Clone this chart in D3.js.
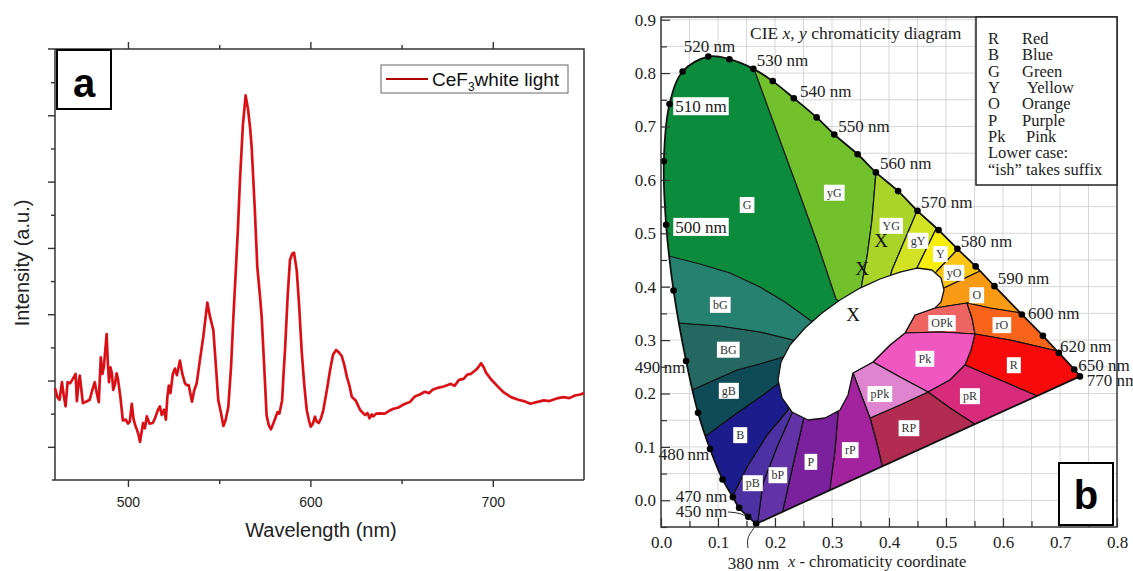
<!DOCTYPE html>
<html>
<head>
<meta charset="utf-8">
<script src="https://cdn.jsdelivr.net/npm/d3@7"></script>
<style>
body { margin: 0; background: #fff; }
svg { display: block; }
</style>
</head>
<body>
<svg id="fig" width="1133" height="571"></svg>
<script>
// ---------- panel a : emission spectrum ----------
const SPECTRUM = [
  [460,1.77],[461.3,1.50],[462.5,1.42],[463.8,1.95],[464.8,1.55],[465.8,1.22],[466.9,1.95],[468.3,1.92],
  [469.8,2.05],[471.3,2.20],[472,1.38],[472.9,1.92],[473.6,2.15],[474.5,1.70],[475.3,1.32],[477,1.36],
  [479,1.42],[480.8,1.78],[481.8,1.95],[482.9,1.62],[484,1.35],[485.1,2.70],[486,2.20],[486.8,2.42],
  [487.7,3.00],[488.3,3.40],[489,2.50],[489.6,1.95],[490.4,2.40],[491.2,2.22],[491.9,1.72],[492.8,1.88],
  [493.8,2.22],[494.5,2.05],[495.8,1.52],[497.2,0.80],[498.8,0.82],[500,0.70],[501,0.76],[502.1,1.30],
  [503,0.86],[503.9,0.66],[504.9,0.52],[505.8,0.36],[506.6,0.15],[507.4,0.42],[508.3,0.72],[509.3,0.56],
  [510.3,0.92],[511.8,0.70],[513.6,0.72],[514.8,0.86],[516.3,1.10],[517.5,1.22],[518.5,0.96],[519.8,1.12],
  [520.8,0.82],[521.6,1.50],[522.4,1.85],[523.3,1.62],[524.6,2.20],[525.7,2.36],[526.8,2.16],[528.5,2.60],
  [529.8,2.20],[531.2,1.92],[532.3,1.86],[533.3,1.86],[535.1,1.36],[536.3,1.70],[537.7,1.92],[539.4,2.60],
  [541.3,3.32],[543.5,4.35],[545,3.92],[546.8,3.52],[548,2.60],[549.5,1.41],[550.9,1.05],[552.3,0.63],
  [553.5,0.80],[555,1.20],[556.5,2.40],[557.8,3.92],[559.2,5.40],[560.3,6.60],[561.4,8.05],[563,9.70],
  [564.5,10.60],[565.9,10.15],[567,9.60],[567.8,9.05],[569.5,7.20],[570.9,5.43],[572.3,4.60],[573.3,3.92],
  [574.8,2.30],[576,0.95],[577.2,0.65],[578.4,0.53],[580,0.75],[581,0.90],[582,1.05],[583,1.00],
  [584.5,1.40],[585.3,2.20],[586.1,2.92],[587.5,4.50],[588.8,5.63],[590,5.82],[591,5.86],[592.5,5.33],
  [593.8,4.30],[595.2,2.92],[596.6,1.90],[598,1.11],[599.2,0.80],[600.2,0.61],[601.4,0.70],[602.5,0.91],
  [603.5,0.76],[604.6,0.72],[605.8,0.86],[607.1,1.11],[609,1.70],[610.8,2.32],[612.4,2.78],[614.1,2.92],
  [615.6,2.85],[617.2,2.74],[618.7,2.45],[620,2.11],[621.4,1.85],[622.7,1.51],[624.8,1.40],[627.3,1.11],
  [628.7,1.03],[630,0.96],[631.3,1.02],[632.4,0.86],[633.6,0.98],[634.5,0.92],[636,1.00],[638.2,1.01],
  [640.8,1.00],[643,1.08],[645.5,1.15],[648,1.18],[650.5,1.26],[652,1.30],[654.5,1.35],[657.3,1.52],
  [660,1.58],[662.7,1.66],[665,1.62],[667,1.72],[669.9,1.78],[673,1.82],[675,1.86],[677,1.90],
  [679,1.84],[681.5,2.02],[684,2.05],[686,2.18],[688,2.20],[689.8,2.28],[691.5,2.36],[693.6,2.52],
  [695,2.40],[696.3,2.24],[699,2.04],[702.4,1.84],[706,1.64],[710,1.50],[714,1.42],[717,1.38],
  [720.6,1.30],[724,1.35],[728,1.40],[731,1.38],[735,1.46],[738.7,1.50],[742,1.47],[745,1.55],
  [748,1.58],[750,1.62]
];
const WL_MAJOR = [500, 600, 700];
const WL_MINOR = [550, 650];
const INT_MAJOR = [0, 2, 4, 6, 8, 10];
const INT_MINOR = [1, 3, 5, 7, 9, 11];

// ---------- panel b : CIE diagram ----------
const LOCUS_NM = [380,450,460,470,475,480,485,490,495,500,505,510,515,520,525,530,535,540,545,550,555,560,565,570,575,580,585,590,600,610,620,650,770];
const LOCUS_X = [0.167,0.153,0.137,0.126,0.108,0.086,0.065,0.044,0.022,0.009,0.005,0.015,0.038,0.083,0.120,0.162,0.196,0.233,0.273,0.304,0.345,0.377,0.416,0.450,0.487,0.520,0.552,0.585,0.633,0.670,0.698,0.725,0.735];
const LOCUS_Y = [-0.044,-0.031,-0.014,0.006,0.039,0.096,0.164,0.261,0.393,0.516,0.635,0.742,0.803,0.831,0.826,0.808,0.785,0.753,0.717,0.685,0.648,0.614,0.579,0.542,0.506,0.471,0.438,0.401,0.348,0.308,0.276,0.245,0.232];

// region boundaries (x, y chromaticity), ends run slightly past the locus / into the white centre
const B_G_YG = [[0.1526,0.8395],[0.1632,0.8077],[0.2053,0.6841],[0.2439,0.5717],[0.2754,0.4781],[0.3070,0.3770],[0.3316,0.3564]];
const B_G_BG = [[-0.0193,0.4650],[0.0140,0.4575],[0.0684,0.4425],[0.1211,0.4256],[0.1737,0.3994],[0.2175,0.3713],[0.2614,0.3376],[0.2877,0.3189]];
const B_YG_YG = [[0.3807,0.6466],[0.3772,0.6148],[0.3702,0.5249],[0.3614,0.4556],[0.3526,0.4069],[0.3491,0.3751]];
const B_YG_GY = [[0.4632,0.5717],[0.4491,0.5418],[0.4053,0.4313],[0.3982,0.4032]];
const B_GY_Y = [[0.4965,0.5399],[0.4825,0.5080],[0.4491,0.4350],[0.4404,0.4125]];
const B_Y_YO = [[0.5351,0.5024],[0.5193,0.4687],[0.4842,0.4294],[0.4719,0.4125]];
const B_YO_O = [[0.5737,0.4387],[0.5561,0.4275],[0.4965,0.3975],[0.4719,0.3844]];
const B_OPK_TOP = [[0.4456,0.3470],[0.4807,0.3601],[0.5368,0.3695]];
const B_O_RO = [[0.5368,0.3695],[0.5772,0.3601],[0.6316,0.3508],[0.6649,0.3451]];
const B_OPK_RO = [[0.5368,0.3695],[0.5456,0.3414],[0.5509,0.3114]];
const B_OPK_PK = [[0.4281,0.3133],[0.4895,0.3152],[0.5509,0.3114]];
const B_RO_R = [[0.5509,0.3114],[0.6123,0.3002],[0.6947,0.2796],[0.7263,0.2721]];
const B_PK_R = [[0.5509,0.3114],[0.5439,0.2815],[0.5333,0.2534]];
const B_PK_PR = [[0.5333,0.2534],[0.5070,0.2253],[0.4684,0.2028]];
const B_R_PR = [[0.5333,0.2534],[0.5947,0.2253],[0.6561,0.1972],[0.6825,0.1841]];
const B_PR_RP = [[0.4684,0.2028],[0.5070,0.1728],[0.5474,0.1448],[0.5596,0.1316]];
const B_PPK_PK = [[0.3719,0.2590],[0.4193,0.2309],[0.4684,0.2028]];
const B_PPK_RP = [[0.3667,0.1541],[0.4193,0.1785],[0.4684,0.2028]];
const B_PPK_LEFT = [[0.3368,0.2384],[0.3667,0.1541]];
const B_RP_RP = [[0.3667,0.1541],[0.3772,0.1129],[0.3877,0.0661],[0.3930,0.0380]];
const B_P_RP = [[0.3105,0.1635],[0.3053,0.0942],[0.2965,0.0230],[0.2930,0.0006]];
const B_BP_P = [[0.2509,0.1560],[0.2316,0.0661],[0.2140,-0.0181],[0.2088,-0.0463]];
const B_PB_BP = [[0.2298,0.1635],[0.2035,0.0998],[0.1789,0.0324],[0.1702,-0.0369],[0.1667,-0.0650]];
const B_B_PB = [[0.2228,0.1691],[0.1860,0.1223],[0.1509,0.0624],[0.1263,0.0099],[0.1123,-0.0088]];
const B_GB_B = [[0.0684,0.1129],[0.0807,0.1223],[0.1333,0.1635],[0.1789,0.1972],[0.2070,0.2197],[0.2263,0.2253]];
const B_BG_GB = [[0.0421,0.2009],[0.0544,0.2066],[0.1333,0.2440],[0.1789,0.2571],[0.2140,0.2684],[0.2351,0.2684]];
const B_BG2_BG = [[0.0158,0.3320],[0.0298,0.3320],[0.1035,0.3264],[0.1737,0.3152],[0.2316,0.3002],[0.2526,0.2908]];

const WHITE_AREA = [[0.2053,0.2253],[0.2105,0.2590],[0.2263,0.2908],[0.2526,0.3227],[0.2825,0.3508],[0.3140,0.3751],
  [0.3491,0.3975],[0.3842,0.4144],[0.4193,0.4275],[0.4491,0.4350],[0.4754,0.4313],[0.4912,0.4163],[0.4965,0.3938],
  [0.4912,0.3713],[0.4807,0.3601],[0.4456,0.3470],[0.4281,0.3133],[0.4018,0.2908],[0.3719,0.2590],[0.3368,0.2384],
  [0.3281,0.1972],[0.3140,0.1691],[0.2877,0.1541],[0.2579,0.1504],[0.2298,0.1654],[0.2123,0.1916]];

const REGION_LABELS = [["G",0.151,0.553],["yG",0.304,0.576],["YG",0.404,0.514],["gY",0.451,0.486],["Y",0.490,0.461],
  ["yO",0.514,0.426],["O",0.554,0.384],["OPk",0.493,0.332],["rO",0.598,0.328],["R",0.619,0.253],["Pk",0.463,0.265],
  ["pR",0.542,0.195],["RP",0.435,0.135],["pPk",0.384,0.199],["rP",0.332,0.094],["P",0.263,0.072],["bP",0.205,0.047],
  ["pB",0.161,0.032],["B",0.139,0.122],["gB",0.119,0.205],["BG",0.118,0.282],["bG",0.104,0.366]];

const NM_LABELS = [["520 nm",0.040,0.851,false],["530 nm",0.168,0.825,false],["540 nm",0.244,0.767,false],
  ["550 nm",0.311,0.701,false],["560 nm",0.384,0.632,false],["570 nm",0.456,0.559,false],["580 nm",0.526,0.486,false],
  ["590 nm",0.591,0.416,false],["600 nm",0.644,0.351,false],["620 nm",0.700,0.289,false],["650 nm",0.732,0.253,false],
  ["770 nm",0.747,0.225,false],["510 nm",0.025,0.738,true],["500 nm",0.025,0.512,true],["490\u2009nm",-0.046,0.250,false],
  ["480\u2009nm",-0.004,0.087,false],["470 nm",0.026,0.008,false],["450 nm",0.026,-0.020,false],["380 nm",0.117,-0.117,false]];

const LEADERS = [
  [[0.1175,-0.0219],[0.1386,-0.0238],[0.1509,-0.0313]],
  [[0.1526,-0.0894],[0.1509,-0.0706],[0.1596,-0.0575],[0.1649,-0.0481]]
];

const MARK_X = [0.386, 0.353, 0.337];
const MARK_Y = [0.487, 0.435, 0.349];

const X_TICKS = d3.range(0, 9).map(i => i / 10);
const X_MINOR = d3.range(0, 8).map(i => i / 10 + 0.05);
const Y_TICKS = d3.range(0, 10).map(i => i / 10);
const Y_MINOR = d3.range(-1, 9).map(i => i / 10 + 0.05);

const KEY_ABBR = ["R","B","G","Y","O","P","Pk"];
const KEY_NAME = ["Red","Blue","Green","Yellow","Orange","Purple","Pink"];

const SERIF = "'Liberation Serif','Times New Roman',serif";
const SANS = "Arial,'Liberation Sans',Helvetica,sans-serif";

const svg = d3.select("#fig");

// =============== panel a ===============
const xA = d3.scaleLinear().domain([460, 750]).range([55, 584]);
const yA = d3.scaleLinear().domain([-1, 12]).range([480, 49]);
const gA = svg.append("g");

function tickAxis(axis, tr) {
  const g = gA.append("g").attr("transform", tr).call(axis);
  g.select(".domain").remove();
  g.selectAll("line").attr("stroke", "#333").attr("stroke-width", 1.4);
  g.selectAll("text").attr("font-family", SANS).attr("font-size", 14).attr("fill", "#222");
  return g;
}
tickAxis(d3.axisBottom(xA).tickValues(WL_MAJOR).tickSize(7).tickPadding(10).tickFormat(d3.format("d")), "translate(0,480)");
tickAxis(d3.axisBottom(xA).tickValues(WL_MINOR).tickSize(4).tickFormat(""), "translate(0,480)");
tickAxis(d3.axisTop(xA).tickValues(WL_MAJOR).tickSize(7).tickFormat(""), "translate(0,49)");
tickAxis(d3.axisTop(xA).tickValues(WL_MINOR).tickSize(4).tickFormat(""), "translate(0,49)");
tickAxis(d3.axisLeft(yA).tickValues(INT_MAJOR).tickSize(7).tickFormat(""), "translate(55,0)");
tickAxis(d3.axisLeft(yA).tickValues(INT_MINOR).tickSize(4).tickFormat(""), "translate(55,0)");

gA.append("path")
  .attr("d", "M48,49H584V480M52,480H584M55,49V480")
  .attr("fill", "none").attr("stroke", "#333").attr("stroke-width", 1.5);

const lineA = d3.line().x(d => xA(d[0])).y(d => yA(d[1]));
gA.append("path").datum(SPECTRUM).attr("d", lineA)
  .attr("fill", "none").attr("stroke", "#e4141a").attr("stroke-width", 2.7).attr("stroke-linejoin", "round");
gA.append("path").datum(SPECTRUM).attr("d", lineA)
  .attr("fill", "none").attr("stroke", "#700000").attr("stroke-width", 0.6).attr("opacity", 0.35);

gA.append("text").attr("x", 321).attr("y", 537).attr("text-anchor", "middle")
  .attr("font-family", SANS).attr("font-size", 20).attr("fill", "#222").text("Wavelength (nm)");
gA.append("text").attr("transform", "translate(29,263) rotate(-90)").attr("text-anchor", "middle")
  .attr("font-family", SANS).attr("font-size", 20).attr("fill", "#222").text("Intensity (a.u.)");

// legend
gA.append("rect").attr("x", 381).attr("y", 65).attr("width", 187).attr("height", 28)
  .attr("fill", "#fff").attr("stroke", "#666").attr("stroke-width", 1);
gA.append("line").attr("x1", 386).attr("x2", 428).attr("y1", 79).attr("y2", 79)
  .attr("stroke", "#b00000").attr("stroke-width", 2);
const legT = gA.append("text").attr("x", 432).attr("y", 86)
  .attr("font-family", SANS).attr("font-size", 19).attr("fill", "#111");
legT.append("tspan").text("CeF");
legT.append("tspan").attr("font-size", 12).attr("dy", 5).text("3");
legT.append("tspan").attr("dy", -5).text("white light");

gA.append("rect").attr("x", 57).attr("y", 50).attr("width", 54).attr("height", 59)
  .attr("fill", "#fff").attr("stroke", "#000").attr("stroke-width", 2);
gA.append("text").attr("x", 84).attr("y", 97).attr("text-anchor", "middle")
  .attr("font-family", SANS).attr("font-weight", "bold").attr("font-size", 40).text("a");

// =============== panel b ===============
const xB = d3.scaleLinear().domain([0, 0.8]).range([661, 1117]);
const yB = d3.scaleLinear().domain([-0.05, 0.9]).range([527, 19.7]);
const gB = svg.append("g");

// grid
const gridX = d3.range(1, 16).map(i => i * 0.05);
const gridY = d3.range(0, 19).map(i => i * 0.05);
gB.append("g").selectAll("line").data(gridX).enter().append("line")
  .attr("x1", d => xB(d)).attr("x2", d => xB(d)).attr("y1", 17).attr("y2", 527)
  .attr("stroke", "#d3d3d3").attr("stroke-width", 0.9);
gB.append("g").selectAll("line").data(gridY).enter().append("line")
  .attr("x1", 661).attr("x2", 1117).attr("y1", d => yB(d)).attr("y2", d => yB(d))
  .attr("stroke", "#d3d3d3").attr("stroke-width", 0.9);

const locusPts = LOCUS_NM.map((n, i) => [LOCUS_X[i], LOCUS_Y[i]]);
const locusCurve = d3.line().x(d => xB(d[0])).y(d => yB(d[1])).curve(d3.curveCatmullRom.alpha(0.5))(locusPts) + "Z";
const polyLine = d3.line().x(d => xB(d[0])).y(d => yB(d[1]));

svg.append("defs").append("clipPath").attr("id", "locusClip")
  .append("path").attr("d", locusCurve);

const rev = a => a.slice().reverse();
const REGIONS = [
  {name: "yG", color: "#72c02c", poly: [...B_G_YG, ...rev(B_YG_YG), [0.40,0.75], [0.25,0.95], [0.14,0.95]]},
  {name: "YG", color: "#aad42a", poly: [...B_YG_YG, ...rev(B_YG_GY), [0.45,0.68], [0.38,0.70]]},
  {name: "gY", color: "#d2e224", poly: [...B_YG_GY, ...rev(B_GY_Y), [0.50,0.60], [0.46,0.62]]},
  {name: "Y", color: "#f7ee0c", poly: [...B_GY_Y, ...rev(B_Y_YO), [0.54,0.56], [0.50,0.58]]},
  {name: "yO", color: "#fcc414", poly: [...B_Y_YO, ...rev(B_YO_O), [0.59,0.47], [0.55,0.52]]},
  {name: "O", color: "#f89a14", poly: [...B_YO_O, [0.4807,0.3601], ...B_O_RO, [0.72,0.38], [0.62,0.47]]},
  {name: "OPk", color: "#ee6462", poly: [...B_OPK_TOP, ...B_OPK_RO.slice(1), ...rev(B_OPK_PK).slice(1)]},
  {name: "rO", color: "#f7641a", poly: [...B_O_RO, [0.74,0.33], ...rev(B_RO_R), ...rev(B_OPK_RO).slice(1)]},
  {name: "R", color: "#f70a0a", poly: [...B_RO_R, [0.80,0.26], [0.72,0.16], ...rev(B_R_PR), ...rev(B_PK_R).slice(1)]},
  {name: "Pk", color: "#f057c0", poly: [...B_OPK_PK, ...B_PK_R.slice(1), ...B_PK_PR.slice(1), ...rev(B_PPK_PK).slice(1), [0.4018,0.2908]]},
  {name: "pR", color: "#d82b7c", poly: [...B_PK_PR, ...B_PR_RP.slice(1), [0.64,0.12], ...rev(B_R_PR)]},
  {name: "RP", color: "#b12c50", poly: [...B_PPK_RP, ...B_PR_RP.slice(1), [0.45,0.0], ...rev(B_RP_RP)]},
  {name: "pPk", color: "#df84cf", poly: [...B_PPK_PK, ...rev(B_PPK_RP).slice(1), ...rev(B_PPK_LEFT).slice(1)]},
  {name: "rP", color: "#a3229d", poly: [...B_P_RP, [0.35,-0.04], ...rev(B_RP_RP), [0.3368,0.2384], [0.32,0.22]]},
  {name: "P", color: "#7b219d", poly: [...B_BP_P, [0.25,-0.06], ...rev(B_P_RP), [0.28,0.17]]},
  {name: "bP", color: "#6233a6", poly: [...B_PB_BP, [0.20,-0.08], ...rev(B_BP_P), [0.24,0.175]]},
  {name: "pB", color: "#4b31a2", poly: [...B_B_PB, [0.14,-0.09], ...rev(B_PB_BP), [0.225,0.185]]},
  {name: "B", color: "#1c1c8c", poly: [...B_GB_B, ...B_B_PB, [0.05,0.0], [0.03,0.10]]},
  {name: "gB", color: "#0e4b56", poly: [...B_BG_GB, ...rev(B_GB_B), [0.02,0.15]]},
  {name: "BG", color: "#246861", poly: [...B_BG2_BG, ...rev(B_BG_GB), [0.01,0.25]]},
  {name: "bG", color: "#268171", poly: [...B_G_BG, ...rev(B_BG2_BG), [-0.03,0.40]]}
];
const G_COLOR = "#0b8b3b";

const gReg = gB.append("g").attr("clip-path", "url(#locusClip)");
gReg.append("path").attr("d", locusCurve).attr("fill", G_COLOR);
gReg.selectAll("path.region").data(REGIONS).enter().append("path")
  .attr("class", "region")
  .attr("d", d => polyLine(d.poly) + "Z")
  .attr("fill", d => d.color)
  .attr("stroke", "#111").attr("stroke-width", 1.2).attr("stroke-linejoin", "round");

gB.append("path").attr("d", polyLine(WHITE_AREA) + "Z")
  .attr("fill", "#fff").attr("stroke", "#111").attr("stroke-width", 1.3).attr("stroke-linejoin", "round");

gB.append("path").attr("d", locusCurve)
  .attr("fill", "none").attr("stroke", "#111").attr("stroke-width", 1.8).attr("stroke-linejoin", "round");

gB.append("g").selectAll("circle").data(locusPts).enter().append("circle")
  .attr("cx", d => xB(d[0])).attr("cy", d => yB(d[1])).attr("r", 3.3).attr("fill", "#000");

// X marks
gB.append("g").selectAll("text").data(MARK_X).enter().append("text")
  .attr("x", d => xB(d)).attr("y", (d, i) => yB(MARK_Y[i])).attr("dy", "0.35em")
  .attr("text-anchor", "middle").attr("font-family", SERIF).attr("font-size", 19).attr("fill", "#111").text("X");

// region labels in white boxes
REGION_LABELS.forEach(l => {
  const g = gB.append("g");
  const r = g.append("rect").attr("fill", "#fff");
  const t = g.append("text").attr("x", xB(l[1])).attr("y", yB(l[2])).attr("dy", "0.35em")
    .attr("text-anchor", "middle").attr("font-family", SERIF).attr("font-size", 12).attr("fill", "#333").text(l[0]);
  const w = t.node().getComputedTextLength();
  r.attr("x", xB(l[1]) - w / 2 - 3).attr("y", yB(l[2]) - 8).attr("width", w + 6).attr("height", 16);
});

// wavelength labels
NM_LABELS.forEach(l => {
  const g = gB.append("g");
  const r = g.append("rect").attr("fill", "#fff");
  const t = g.append("text").attr("x", xB(l[1])).attr("y", yB(l[2])).attr("dy", "0.35em")
    .attr("font-family", SERIF).attr("font-size", 17).attr("fill", "#222").text(l[0]);
  if (l[3]) {
    const w = t.node().getComputedTextLength();
    r.attr("x", xB(l[1]) - 2).attr("y", yB(l[2]) - 9).attr("width", w + 4).attr("height", 18);
  } else r.remove();
});
gB.append("g").selectAll("path").data(LEADERS).enter().append("path")
  .attr("d", d3.line().x(d => xB(d[0])).y(d => yB(d[1])).curve(d3.curveBasis))
  .attr("fill", "none").attr("stroke", "#222").attr("stroke-width", 1);

// axes
function axisB(axis, tr) {
  const g = gB.append("g").attr("transform", tr).call(axis);
  g.select(".domain").remove();
  g.selectAll("line").attr("stroke", "#333").attr("stroke-width", 1.2);
  g.selectAll("text").attr("font-family", SERIF).attr("font-size", 17).attr("fill", "#222");
}
axisB(d3.axisBottom(xB).tickValues(X_TICKS).tickSizeInner(-9).tickSizeOuter(0).tickPadding(9).tickFormat(d3.format(".1f")), "translate(0,527)");
axisB(d3.axisBottom(xB).tickValues(X_MINOR).tickSizeInner(-6).tickSizeOuter(0).tickFormat(""), "translate(0,527)");
axisB(d3.axisLeft(yB).tickValues(Y_TICKS).tickSizeInner(-9).tickSizeOuter(0).tickPadding(5).tickFormat(d3.format(".1f")), "translate(661,0)");
axisB(d3.axisLeft(yB).tickValues(Y_MINOR).tickSizeInner(-6).tickSizeOuter(0).tickFormat(""), "translate(661,0)");

gB.append("rect").attr("x", 661).attr("y", 17).attr("width", 456).attr("height", 510)
  .attr("fill", "none").attr("stroke", "#333").attr("stroke-width", 1.5);

// title
const title = gB.append("text").attr("x", 750).attr("y", 39)
  .attr("font-family", SERIF).attr("font-size", 17.5).attr("fill", "#222");
title.append("tspan").text("CIE ");
title.append("tspan").attr("font-style", "italic").text("x");
title.append("tspan").text(", ");
title.append("tspan").attr("font-style", "italic").text("y");
title.append("tspan").text(" chromaticity diagram");

const xt = gB.append("text").attr("x", 788).attr("y", 567)
  .attr("font-family", SERIF).attr("font-size", 16.5).attr("fill", "#222");
xt.append("tspan").attr("font-style", "italic").text("x");
xt.append("tspan").text(" - chromaticity coordinate");

// key box
gB.append("rect").attr("x", 976).attr("y", 17).attr("width", 141).attr("height", 168)
  .attr("fill", "#fff").attr("stroke", "#222").attr("stroke-width", 1.5);
const keyG = gB.append("g").attr("font-family", SERIF).attr("font-size", 16.5).attr("fill", "#222");
KEY_ABBR.forEach((a, i) => {
  keyG.append("text").attr("x", 988).attr("y", 44 + i * 16.3).text(a);
  keyG.append("text").attr("x", a === "Y" ? 1027 : (a === "Pk" ? 1026 : 1022)).attr("y", 44 + i * 16.3).text(KEY_NAME[i]);
});
keyG.append("text").attr("x", 988).attr("y", 158).text("Lower case:");
keyG.append("text").attr("x", 988).attr("y", 175).text("\u201cish\u201d takes suffix");

gB.append("rect").attr("x", 1059).attr("y", 463).attr("width", 54).attr("height", 62)
  .attr("fill", "#fff").attr("stroke", "#000").attr("stroke-width", 2);
gB.append("text").attr("x", 1086).attr("y", 509).attr("text-anchor", "middle")
  .attr("font-family", SANS).attr("font-weight", "bold").attr("font-size", 40).text("b");
</script>
</body>
</html>
